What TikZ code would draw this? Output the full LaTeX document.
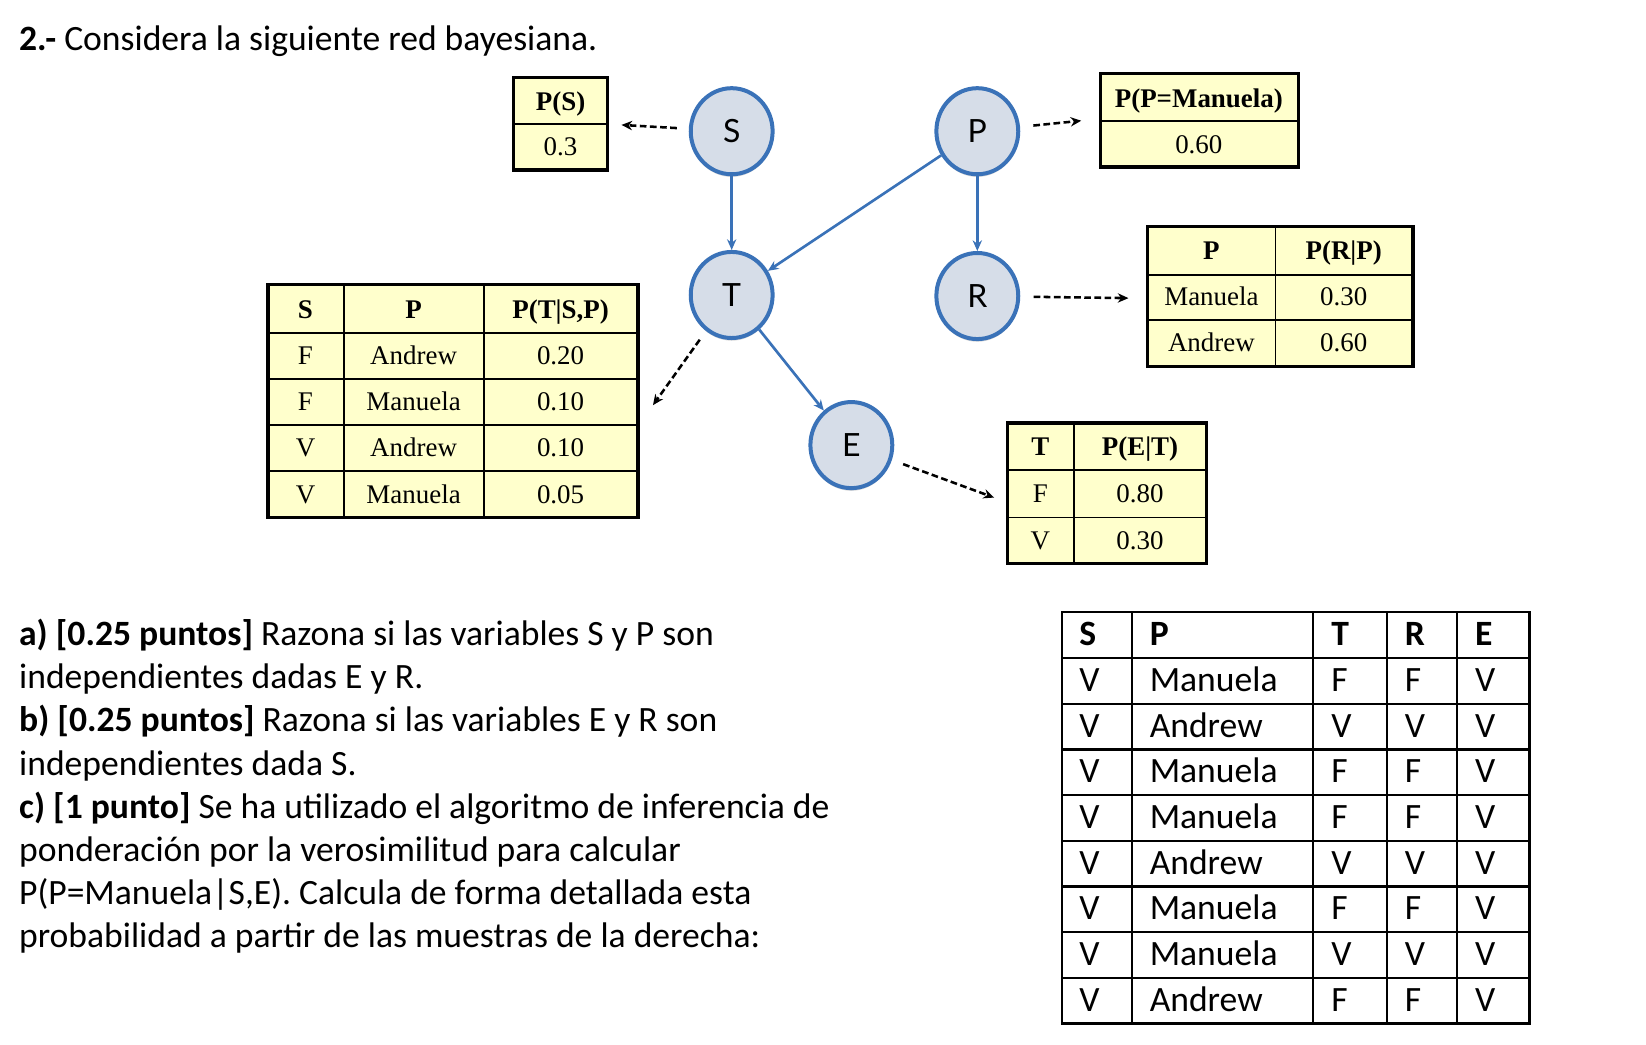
\documentclass[tikz,border=0pt]{standalone}
\usepackage{fontspec}
\setmainfont{Carlito}
\newfontfamily\cptfont{Liberation Serif}
\newfontfamily\netfont{Lato}
\usetikzlibrary{arrows.meta,shadows,shapes.geometric}

% one drawing unit
\newcommand\dpx{0.7873pt}
\newcommand\bodysize{\fontsize{26.7pt}{32.4pt}\selectfont}

\definecolor{nodefill}{HTML}{D6DDE8}
\definecolor{nodeline}{HTML}{3A72B8}
\definecolor{cptfill}{HTML}{FFFFCC}

\tikzset{
  bn/.style={ellipse, draw=nodeline, fill=nodefill, line width=3pt,
    minimum width=78*\dpx, minimum height=82*\dpx, inner sep=0pt,
    font=\netfont\fontsize{24pt}{28pt}\selectfont,
    drop shadow={shadow xshift=0pt, shadow yshift=-2pt, opacity=0.3}},
  blueedge/.style={draw=nodeline, line width=2pt,
    -{Stealth[length=8pt,width=7pt]}},
  cptedge/.style={draw=black, line width=1.9pt, dash pattern=on 5pt off 2.6pt,
    -{Stealth[length=8pt,width=7pt]}},
  cptgrid/.style={draw=black, line width=1.3pt},
  cptframe/.style={draw=black, line width=2.4pt},
  cpthead/.style={font=\cptfont\bfseries\fontsize{20.2pt}{24pt}\selectfont,
    inner sep=0pt, text height=0.66em, text depth=0pt, yshift=-3.2pt},
  cptcell/.style={font=\cptfont\fontsize{20.2pt}{24pt}\selectfont,
    inner sep=0pt, text height=0.66em, text depth=0pt, yshift=-3.2pt},
  smpgrid/.style={draw=black, line width=1.7pt},
  smpcell/.style={anchor=west, font=\bodysize, inner sep=0pt,
    text height=0.644em, text depth=0pt, yshift=-4.6pt},
  smphead/.style={smpcell, font=\bodysize\bfseries},
  bodyline/.style={anchor=base west, font=\bodysize, inner sep=0pt},
}

\begin{document}
\begin{tikzpicture}[x=\dpx,y=-\dpx]
\fill[white] (0,0) rectangle (1568,995);
\useasboundingbox (0,0) rectangle (1568,995);

% heading
\node[bodyline] (title) at (18,48) {\textbf{2.-} Considera la siguiente red bayesiana.};

% ---------- conditional probability tables ----------
% P(S)
\fill[cptfill] (489,74) rectangle (579,162);
\draw[cptgrid] (489,118) -- (579,118);
\draw[cptframe] (489,74) rectangle (579,162);
\node[cpthead] (psh) at (534,97) {P(S)};
\node[cptcell] (psv) at (534,140) {0.3};

% P(P=Manuela)
\fill[cptfill] (1048,70) rectangle (1237,159);
\draw[cptgrid] (1048,115) -- (1237,115);
\draw[cptframe] (1048,70) rectangle (1237,159);
\node[cpthead] (pph) at (1142,94) {P(P=Manuela)};
\node[cptcell] (ppv) at (1142,138) {0.60};

% P(R|P)
\fill[cptfill] (1093,216) rectangle (1346,349);
\draw[cptgrid] (1215,216) -- (1215,349);
\draw[cptgrid] (1093,262) -- (1346,262) (1093,305) -- (1346,305);
\draw[cptframe] (1093,216) rectangle (1346,349);
\node[cpthead] (prh1) at (1154,239) {P};
\node[cpthead] (prh2) at (1280,239) {P(R|P)};
\node[cptcell] (pr11) at (1154,283) {Manuela};
\node[cptcell] (pr12) at (1280,283) {0.30};
\node[cptcell] (pr21) at (1154,327) {Andrew};
\node[cptcell] (pr22) at (1280,327) {0.60};

% P(T|S,P)
\fill[cptfill] (255,271) rectangle (608,493);
\draw[cptgrid] (328,271) -- (328,493) (461,271) -- (461,493);
\draw[cptgrid] (255,317) -- (608,317) (255,361) -- (608,361)
               (255,405) -- (608,405) (255,449) -- (608,449);
\draw[cptframe, line width=2.8pt] (255,271) rectangle (608,493);
\node[cpthead] (pth1) at (291,295) {S};
\node[cpthead] (pth2) at (394,295) {P};
\node[cpthead] (pth3) at (534,295) {P(T|S,P)};
\node[cptcell] (pt11) at (291,339) {F};
\node[cptcell] (pt12) at (394,339) {Andrew};
\node[cptcell] (pt13) at (534,339) {0.20};
\node[cptcell] (pt21) at (291,383) {F};
\node[cptcell] (pt22) at (394,383) {Manuela};
\node[cptcell] (pt23) at (534,383) {0.10};
\node[cptcell] (pt31) at (291,427) {V};
\node[cptcell] (pt32) at (394,427) {Andrew};
\node[cptcell] (pt33) at (534,427) {0.10};
\node[cptcell] (pt41) at (291,471) {V};
\node[cptcell] (pt42) at (394,471) {Manuela};
\node[cptcell] (pt43) at (534,471) {0.05};

% P(E|T)
\fill[cptfill] (960,403) rectangle (1149,537);
\draw[cptgrid] (1023,403) -- (1023,537);
\draw[cptgrid] (960,448) -- (1149,448) (960,493) -- (1149,493);
\draw[cptframe] (960,403) rectangle (1149,537);
\node[cpthead] (peh1) at (991,426) {T};
\node[cpthead] (peh2) at (1086,426) {P(E|T)};
\node[cptcell] (pe11) at (991,470) {F};
\node[cptcell] (pe12) at (1086,470) {0.80};
\node[cptcell] (pe21) at (991,515) {V};
\node[cptcell] (pe22) at (1086,515) {0.30};

% ---------- network ----------
\node[bn] (S) at (697,125) {S};
\node[bn] (P) at (931,125) {P};
\node[bn] (T) at (697,281) {T};
\node[bn] (R) at (931,282) {R};
\node[bn] (E) at (811,424) {E};

\draw[blueedge] (S) -- (T);
\draw[blueedge] (P) -- (T);
\draw[blueedge] (P) -- (R);
\draw[blueedge] (T) -- (E);

% links from each variable to its table
\coordinate (toPS) at (592,119);
\coordinate (toPP) at (1030,115);
\coordinate (toPR) at (1075,284);
\coordinate (toPT) at (622,386);
\coordinate (toPE) at (947,474);
\draw[cptedge, shorten <=9pt] (S) -- (toPS);
\draw[cptedge, shorten <=10pt] (P) -- (toPP);
\draw[cptedge, shorten <=10pt] (R) -- (toPR);
\draw[cptedge, shorten <=8pt] (T) -- (toPT);
\draw[cptedge, shorten <=9pt] (E) -- (toPE);

% ---------- questions ----------
\node[bodyline] (q1) at (18,615) {\textbf{a) [0.25 puntos]} Razona si las variables S y P son};
\node[bodyline] (q2) at (18,656) {independientes dadas E y R.};
\node[bodyline] (q3) at (18,697) {\textbf{b) [0.25 puntos]} Razona si las variables E y R son};
\node[bodyline] (q4) at (18,739) {independientes dada S.};
\node[bodyline] (q5) at (18,780) {\textbf{c) [1 punto]} Se ha utilizado el algoritmo de inferencia de};
\node[bodyline] (q6) at (18,821) {ponderación por la verosimilitud para calcular};
\node[bodyline] (q7) at (18,862) {P(P=Manuela|S,E). Calcula de forma detallada esta};
\node[bodyline] (q8) at (18,903) {probabilidad a partir de las muestras de la derecha:};

% ---------- samples ----------
\draw[smpgrid] (1012,583) rectangle (1457,975);
\foreach \cx in {1078,1251,1321,1388} \draw[smpgrid] (\cx,583) -- (\cx,975);
\foreach \ry in {627,670.5,714,757.5,801,844.5,888,931.5} \draw[smpgrid] (1012,\ry) -- (1457,\ry);

\node[smphead] (hS) at (1028,605) {S};
\node[smphead] (hP) at (1095,605) {P};
\node[smphead] (hT) at (1268,605) {T};
\node[smphead] (hR) at (1338,605) {R};
\node[smphead] (hE) at (1405,605) {E};

\foreach \i/\p/\t/\r in {1/Manuela/F/F, 2/Andrew/V/V, 3/Manuela/F/F, 4/Manuela/F/F,
                         5/Andrew/V/V, 6/Manuela/F/F, 7/Manuela/V/V, 8/Andrew/F/F}{
  \pgfmathsetmacro\yc{627+(\i-0.5)*43.5}
  \node[smpcell] (s\i) at (1028,\yc) {V};
  \node[smpcell] (p\i) at (1095,\yc) {\p};
  \node[smpcell] (t\i) at (1268,\yc) {\t};
  \node[smpcell] (r\i) at (1338,\yc) {\r};
  \node[smpcell] (e\i) at (1405,\yc) {V};
}
\end{tikzpicture}
\end{document}
